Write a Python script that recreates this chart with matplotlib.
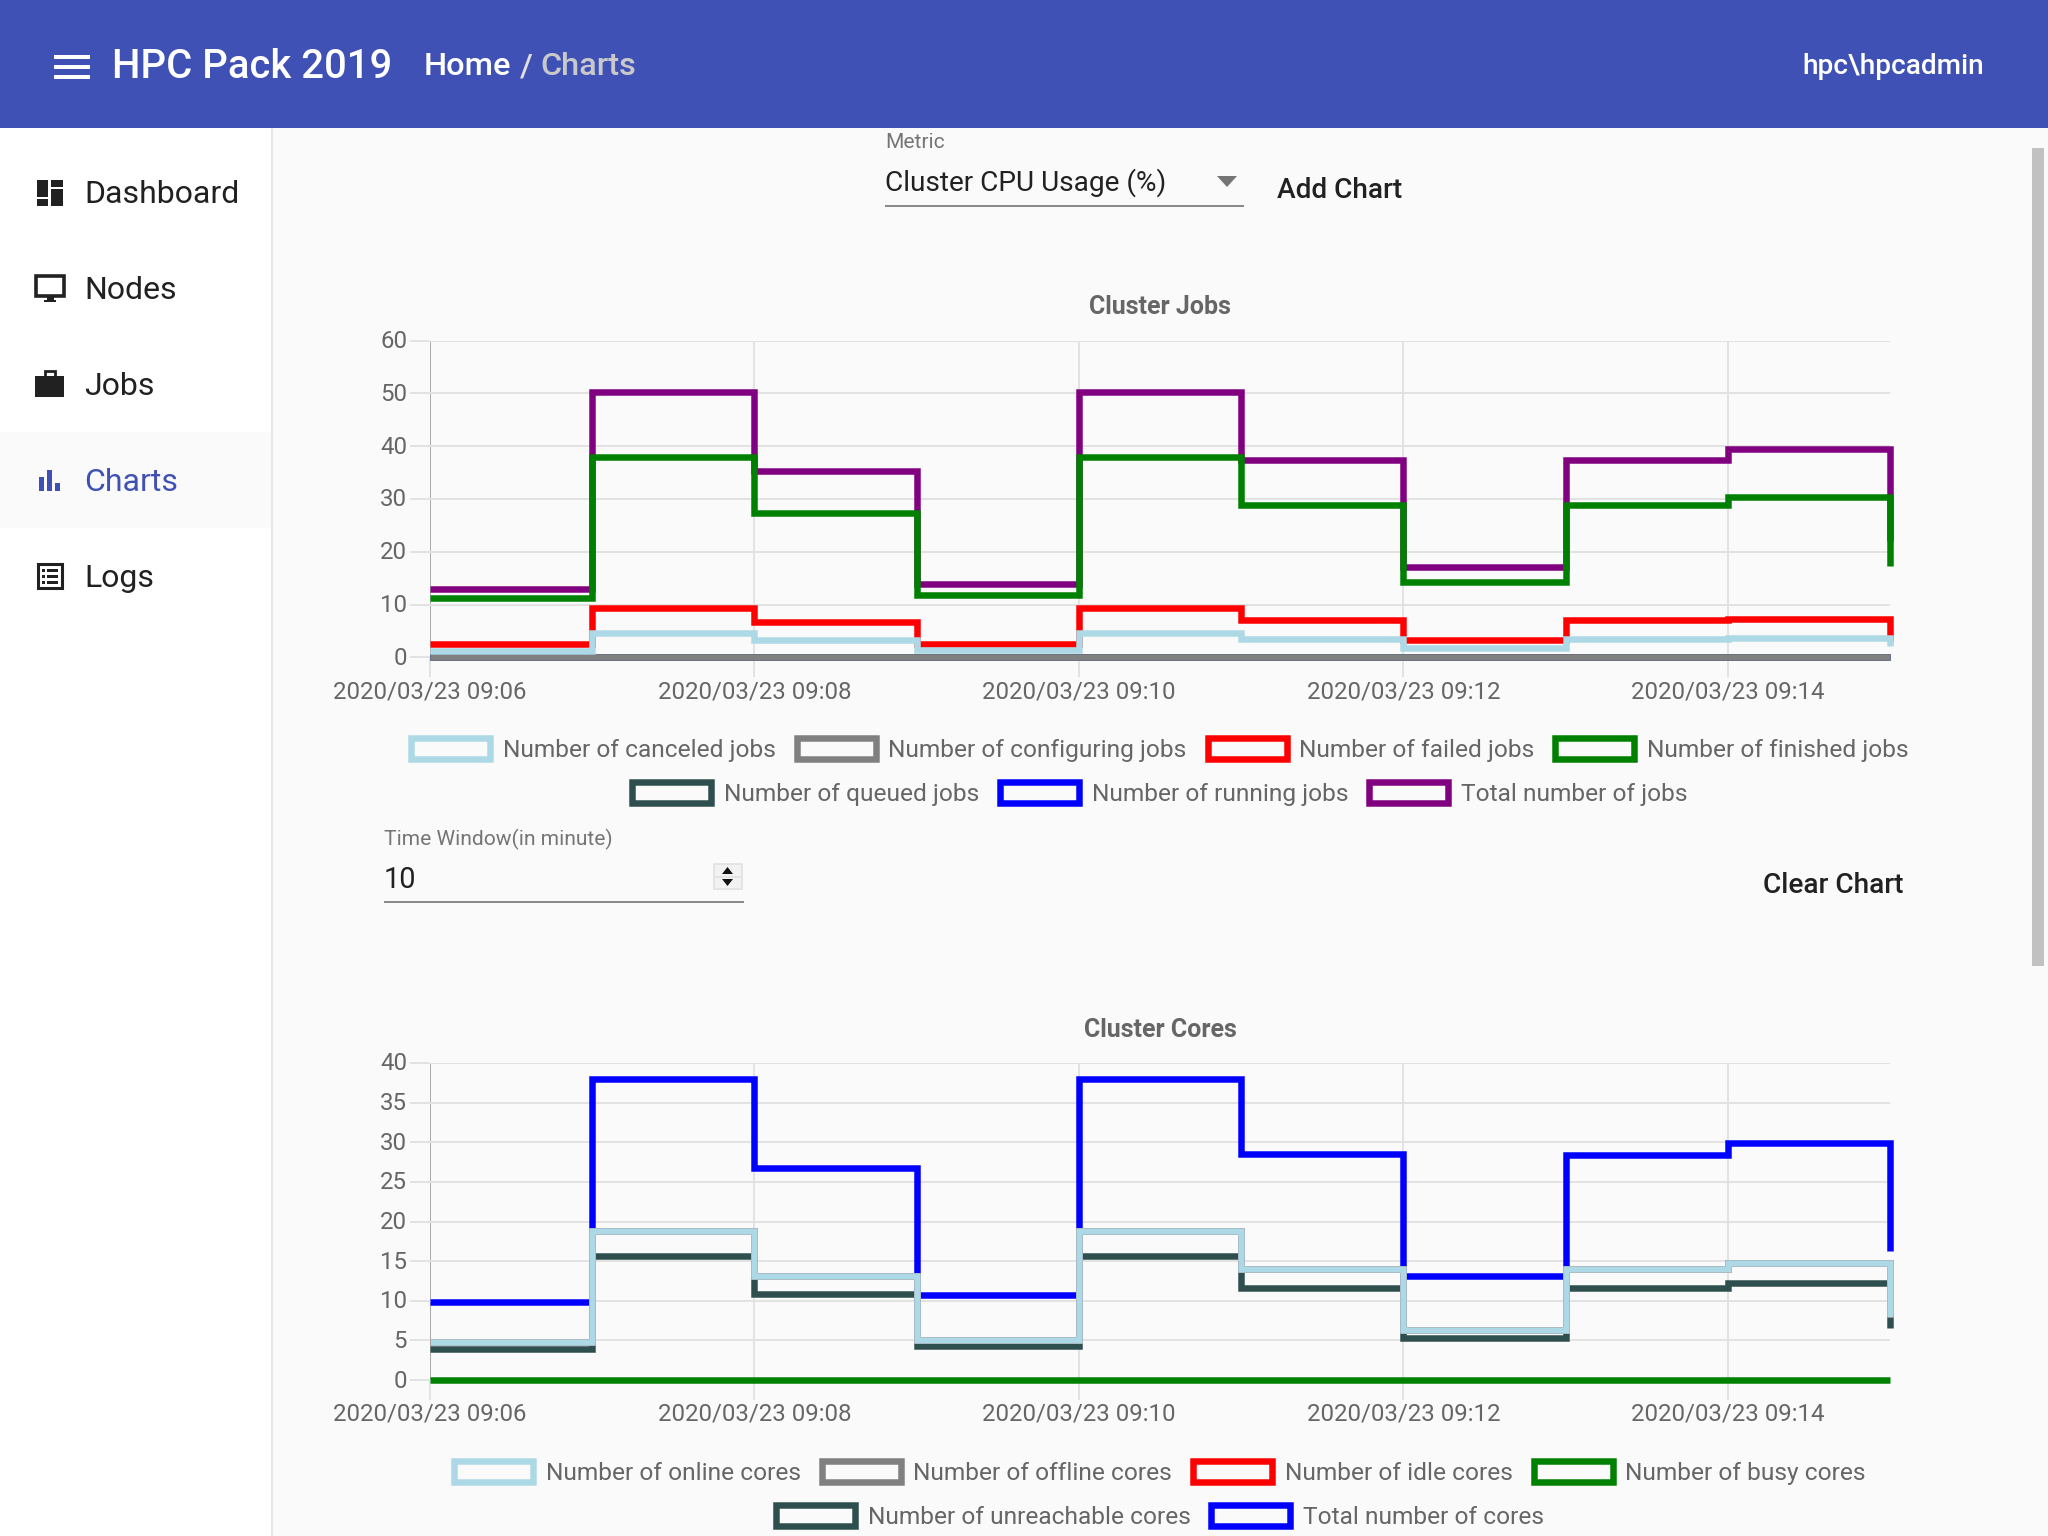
import matplotlib
matplotlib.use("Agg")
import matplotlib.pyplot as plt
from matplotlib.patches import Rectangle, Polygon, Patch
from matplotlib.transforms import ScaledTranslation

plt.rcParams['font.family'] = ['Roboto', 'DejaVu Sans']

W, H = 2048, 1536
PX = 72 / 100  # points per pixel at dpi 100

# ---- data ----
minutes = [0, 1, 2, 3, 4, 5, 6, 7, 8, 9]
tick_minutes = [0, 2, 4, 6, 8]
tick_labels = ['2020/03/23 09:06', '2020/03/23 09:08', '2020/03/23 09:10',
               '2020/03/23 09:12', '2020/03/23 09:14']

jobs_labels = ['Number of canceled jobs', 'Number of configuring jobs', 'Number of failed jobs',
               'Number of finished jobs', 'Number of queued jobs', 'Number of running jobs',
               'Total number of jobs']
jobs_colors = ['lightblue', 'gray', 'red', 'green', 'darkslategray', 'blue', 'purple']
jobs_canceled = [1.25, 4.66, 3.3, 1.4, 4.66, 3.5, 1.76, 3.47, 3.67, 2.06]
jobs_configuring = [0, 0, 0, 0, 0, 0, 0, 0, 0, 0]
jobs_failed = [2.5, 9.4, 6.6, 2.6, 9.4, 7.0, 3.3, 7.0, 7.3, 3.0]
jobs_finished = [11.2, 38.0, 27.3, 11.85, 38.0, 28.8, 14.26, 28.8, 30.3, 17.3]
jobs_queued = [0, 0, 0, 0, 0, 0, 0, 0, 0, 0]
jobs_running = [0, 0, 0, 0, 0, 0, 0, 0, 0, 0]
jobs_total = [12.9, 50.2, 35.2, 13.9, 50.2, 37.4, 17.1, 37.3, 39.4, 22.0]
jobs_series = [jobs_canceled, jobs_configuring, jobs_failed, jobs_finished,
               jobs_queued, jobs_running, jobs_total]
jobs_yticks = [0, 10, 20, 30, 40, 50, 60]

cores_labels = ['Number of online cores', 'Number of offline cores', 'Number of idle cores',
                'Number of busy cores', 'Number of unreachable cores', 'Total number of cores']
cores_colors = ['lightblue', 'gray', 'red', 'green', 'darkslategray', 'blue']
cores_online = [4.76, 18.8, 13.1, 5.1, 18.8, 14.0, 6.3, 14.0, 14.8, 7.9]
cores_offline = [4.76, 18.8, 13.1, 5.1, 18.8, 14.0, 6.3, 14.0, 14.8, 7.9]
cores_idle = [4.76, 18.8, 13.1, 5.1, 18.8, 14.0, 6.3, 14.0, 14.8, 7.9]
cores_busy = [0, 0, 0, 0, 0, 0, 0, 0, 0, 0]
cores_unreachable = [3.95, 15.6, 10.9, 4.3, 15.6, 11.6, 5.3, 11.6, 12.2, 6.6]
cores_total = [9.9, 38.0, 26.8, 10.7, 38.0, 28.5, 13.1, 28.4, 29.9, 16.3]
cores_series = [cores_online, cores_offline, cores_idle, cores_busy, cores_unreachable, cores_total]
cores_yticks = [0, 5, 10, 15, 20, 25, 30, 35, 40]

nav_items = ['Dashboard', 'Nodes', 'Jobs', 'Charts', 'Logs']

# ---- figure and page chrome ----
fig = plt.figure(figsize=(W / 100, H / 100), dpi=100, facecolor='#fafafa')
ui = fig.add_axes([0, 0, 1, 1], zorder=0)
ui.set_xlim(0, W)
ui.set_ylim(H, 0)
ui.axis('off')


def rect(x0, y0, x1, y1, color, z=1, **kw):
    ui.add_patch(Rectangle((x0, y0), x1 - x0, y1 - y0, facecolor=color, edgecolor='none', zorder=z, **kw))


def label(x, y, s, px, color='#212121', ha='left', weight='normal', va='center_baseline'):
    ui.text(x, y, s, fontsize=px * PX, color=color, ha=ha, va=va, fontweight=weight, zorder=5)


# header
rect(0, 0, W, 128, '#3f51b5')
for y0 in (55, 65, 75):
    rect(54, y0, 90, y0 + 3.5, 'white', 3)
label(112, 63.5, 'HPC Pack 2019', 40, 'white', weight=500)
label(424, 63.7, 'Home', 32.5, 'white', weight=500)
label(520, 63.7, '/', 32.5, '#e0e0e0', weight=500)
label(540, 63.7, 'Charts', 32.5, '#c9c9c9', weight=500)
label(1984, 63, 'hpc\\hpcadmin', 28, 'white', ha='right', weight=500)

# sidebar
rect(0, 128, 271, H, 'white')
rect(271, 128, 273, H, '#e6e6e6')
rect(0, 432, 271, 528, '#fafafa', 2)
for i, name in enumerate(nav_items):
    c = '#3f51b5' if name == 'Charts' else '#212121'
    label(84, 191.4 + i * 96, name, 32, c)

ink = '#212121'
# dashboard icon
rect(37, 180, 48, 197, ink, 3)
rect(37, 199, 48, 205.5, ink, 3)
rect(50.5, 180, 62.5, 187, ink, 3)
rect(50.5, 189, 62.5, 205.5, ink, 3)
# nodes icon
ui.add_patch(Rectangle((36, 275.5), 28, 20, facecolor='none', edgecolor=ink, linewidth=3 * PX * 1.2, zorder=3))
rect(47, 296, 54, 300, ink, 3)
rect(44, 299.5, 56, 302, ink, 3)
# jobs icon
rect(35, 376, 64, 397, ink, 3)
ui.add_patch(Rectangle((44.5, 371), 10, 7, facecolor='none', edgecolor=ink, linewidth=2, zorder=3))
# charts icon
rect(39, 477, 44, 491, '#3f51b5', 3)
rect(47, 470, 52, 491, '#3f51b5', 3)
rect(55, 483, 60, 491, '#3f51b5', 3)
# logs icon
ui.add_patch(Rectangle((37.5, 564), 24, 24, facecolor='none', edgecolor=ink, linewidth=2.2, zorder=3))
for y0 in (569, 575, 581):
    rect(41.5, y0, 44.5, y0 + 2.6, ink, 3)
    rect(47, y0, 58, y0 + 2.6, ink, 3)

# metric control
label(885, 141, 'Metric', 21, '#757575')
label(885, 179.5, 'Cluster CPU Usage (%)', 28, '#212121')
rect(885, 204.5, 1244, 206.5, '#8a8a8a')
ui.add_patch(Polygon([(1217, 176), (1237, 176), (1227, 187)], facecolor='#757575', edgecolor='none', zorder=3))
label(1340, 188, 'Add Chart', 28, '#212121', ha='center', weight=500)

# time window control
label(384, 836.7, 'Time Window(in minute)', 21, '#757575')
label(384, 876.7, '10', 29, '#212121')
rect(384, 901, 744, 903, '#8a8a8a')
rect(713, 863, 743, 890, '#e4e4e4', 2)
rect(715, 865, 741, 875.5, '#f2f2f2', 3)
rect(715, 877.5, 741, 888, '#f2f2f2', 3)
ui.add_patch(Polygon([(722, 874), (733, 874), (727.5, 867)], facecolor='#111111', edgecolor='none', zorder=4))
ui.add_patch(Polygon([(722, 879), (733, 879), (727.5, 886)], facecolor='#111111', edgecolor='none', zorder=4))
label(1833, 882.4, 'Clear Chart', 28, '#212121', ha='center', weight=500)

# scrollbar
rect(2032, 148, 2044, 966, '#c1c1c1')


# ---- charts ----
def draw_chart(top, bottom, ymax, yticks, series, labels, colors, title, title_y, rows, legend_ys):
    left, right = 430, 1890
    ax = fig.add_axes([left / W, 1 - bottom / H, (right - left) / W, (bottom - top) / H], zorder=2)
    ax.patch.set_alpha(0)
    for s in ax.spines.values():
        s.set_visible(False)
    ax.set_xlim(minutes[0], minutes[-1])
    ax.set_ylim(0, ymax)
    ax.set_xticks(tick_minutes, tick_labels)
    ax.set_yticks(yticks)
    ax.grid(True, color='#e2e2e2', linewidth=2 * PX, zorder=0)
    ax.set_axisbelow(True)
    ax.tick_params(axis='both', length=20 * PX, width=2 * PX, color='#e2e2e2',
                   labelcolor='#666666', labelsize=24 * PX, pad=3 * PX)
    shift = ScaledTranslation(0, 1.5 / 100, fig.dpi_scale_trans)
    for t in ax.get_yticklabels():
        t.set_transform(t.get_transform() + shift)
    ax.xaxis.get_major_ticks()[0].tick1line.set_color('#aaaaaa')
    ax.xaxis.get_major_ticks()[0].gridline.set_color('#aaaaaa')
    ax.yaxis.get_major_ticks()[0].tick1line.set_color('#bbbbbb')
    ax.yaxis.get_major_ticks()[0].gridline.set_color('#bbbbbb')
    n = len(series)
    for i, (vals, c) in enumerate(zip(series, colors)):
        ax.plot(minutes, vals, color=c, linewidth=6.5 * PX, drawstyle='steps-post',
                solid_joinstyle='miter', solid_capstyle='butt', clip_on=False, zorder=10 + n - i)
    label((left + right) / 2, title_y, title, 25, '#666666', ha='center', weight='bold')
    start = 0
    fs = 24.5
    for count, ly in zip(rows, legend_ys):
        hs = [Patch(facecolor='none', edgecolor=c, linewidth=6.5 * PX, joinstyle='miter')
              for c in colors[start:start + count]]
        fig.legend(hs, labels[start:start + count], ncol=count, loc='center',
                   bbox_to_anchor=((left + right) / 2 / W, 1 - ly / H),
                   bbox_transform=fig.transFigure, frameon=False,
                   fontsize=fs * PX, labelcolor='#666666',
                   handlelength=79 / fs, handleheight=23 / fs, handletextpad=12.6 / fs,
                   columnspacing=21 / fs, borderpad=0, borderaxespad=0, labelspacing=0)
        start += count
    return ax


draw_chart(340.5, 657.3, 60, jobs_yticks, jobs_series, jobs_labels, jobs_colors,
           'Cluster Jobs', 304.4, [4, 3], [750.3, 794.3])
draw_chart(1063, 1380, 40, cores_yticks, cores_series, cores_labels, cores_colors,
           'Cluster Cores', 1027.4, [4, 2], [1473.3, 1517])

fig.savefig('out.png', dpi=100, facecolor=fig.get_facecolor())
